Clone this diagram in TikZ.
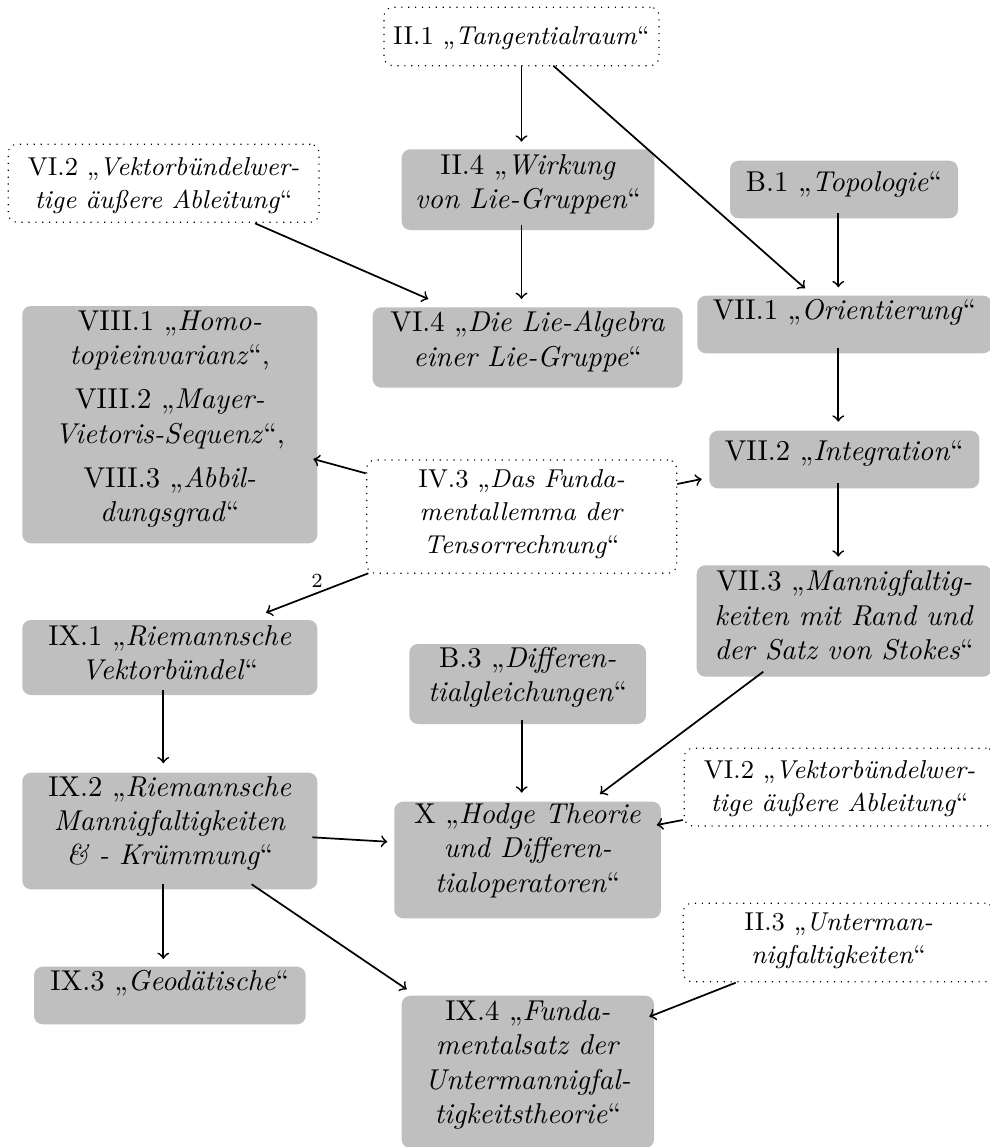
\documentclass[tikz,border=0pt]{standalone}
\usetikzlibrary{calc}
\def\pxu{0.34843pt}
\begin{document}
\begin{tikzpicture}[x=0.34843pt,y=-0.34843pt,
  every node/.style={inner sep=0pt, outer sep=0pt, align=flush center},
  gbox/.style={fill=gray!50, rounded corners=3pt, font=\normalsize},
  dbox/.style={draw=black, dotted, rounded corners=3pt, font=\fontsize{9}{11.5}\selectfont},
  sz/.style n args={3}{minimum width=#1*\pxu, text width=#1*\pxu, text height=#2*\pxu, text depth=#3*\pxu},
  arr/.style={->, line width=0.6pt},
  lbl/.style={font=\scriptsize, inner sep=2pt}
]
\useasboundingbox (0,0) rectangle (990,1147);

\node[dbox, sz={275}{37}{21.4}] (t21) at (521.5,36.5) {II.1 „\textit{Tangentialraum}“};
\node[dbox, sz={310.7}{31.4}{46.6}] (v62a) at (163.65,183.3) {VI.2 „\textit{Vektorbündelwer-}\\\textit{tige äußere Ableitung}“};
\node[gbox, sz={252.6}{25}{55.7}] (t24) at (528,189.65) {II.4 „\textit{Wirkung}\\\textit{von Lie-Gruppen}“};
\node[gbox, sz={228}{30.6}{27}] (b1) at (844,189.5) {B.1 „\textit{Topologie}“};
\node[gbox, sz={310}{24.4}{56}] (v64) at (527.7,347.5) {VI.4 „\textit{Die Lie-Algebra}\\\textit{einer Lie-Gruppe}“};
\node[gbox, sz={294.5}{23.3}{34.3}] (v71) at (844.5,324.5) {VII.1 „\textit{Orientierung}“};
\node[gbox, sz={295}{24}{213.3}] (v8) at (169.8,424.65) {VIII.1 „\textit{Homo-}\\\textit{topieinvarianz}“,\\[3.4pt]VIII.2 „\textit{Mayer-}\\\textit{Vietoris-Sequenz}“,\\[3.4pt]VIII.3 „\textit{Abbil-}\\\textit{dungsgrad}“};
\node[dbox, sz={310}{27.5}{85.8}] (v43) at (521.7,516.65) {IV.3 „\textit{Das Funda-}\\\textit{mentallemma der}\\\textit{Tensorrechnung}“};
\node[gbox, sz={270}{29.3}{28.3}] (v72) at (844.3,459.5) {VII.2 „\textit{Integration}“};
\node[gbox, sz={295}{25.4}{86}] (v73) at (844.2,621) {VII.3 „\textit{Mannigfaltig-}\\\textit{keiten mit Rand und}\\\textit{der Satz von Stokes}“};
\node[gbox, sz={295}{25}{50}] (v91) at (169.8,657.5) {IX.1 „\textit{Riemannsche}\\\textit{Vektorbündel}“};
\node[gbox, sz={236.7}{23.3}{56.7}] (b3) at (527.65,684) {B.3 „\textit{Differen-}\\\textit{tialgleichungen}“};
\node[gbox, sz={295}{23.3}{93.3}] (v92) at (169.8,831) {IX.2 „\textit{Riemannsche}\\\textit{Mannigfaltigkeiten}\\\textit{\& - Krümmung}“};
\node[gbox, sz={266.7}{21.6}{95}] (x) at (527.65,860) {X „\textit{Hodge Theorie}\\\textit{und Differen-}\\\textit{tialoperatoren}“};
\node[dbox, sz={310.7}{29.7}{48}] (v62b) at (839.65,787.15) {VI.2 „\textit{Vektorbündelwer-}\\\textit{tige äußere Ableitung}“};
\node[gbox, sz={271.7}{23.3}{34.3}] (v93) at (169.85,995.5) {IX.3 „\textit{Geodätische}“};
\node[dbox, sz={310.7}{27.4}{51}] (t23) at (838.65,942.5) {II.3 „\textit{Unterman-}\\\textit{nigfaltigkeiten}“};
\node[gbox, sz={252.3}{24.8}{127.5}] (v94) at (527.85,1071.85) {IX.4 „\textit{Funda-}\\\textit{mentalsatz der}\\\textit{Untermannigfal-}\\\textit{tigkeitstheorie}“};

\draw[arr] (t21.south) -- ($(t21.south |- t24.north)+(0,-7.6)$);
\draw[arr] ($(t21.south |- t24.south)+(0,-5)$) -- ($(t21.south |- v64.north)+(0,-8.3)$);
\draw[arr] ($(t21.south)+(31.8,0)$) -- ($(v71.north)+(-39.5,-7.4)$);
\draw[arr] ($(b1.south)+(-5.7,-5)$) -- ($(b1.south |- v71.north)+(-5.7,-8.4)$);
\draw[arr] ($(v62a.south)+(91.35,1)$) -- ($(v64.north)+(-99.4,-8.3)$);
\draw[arr] ($(v71.south)+(-6.2,-5)$) -- ($(v71.south |- v72.north)+(-6.2,-9)$);
\draw[arr] ($(v43.west)+(-1,-43.35)$) -- ($(v8.east)+(-4,34.35)$);
\draw[arr] ($(v43.east)+(0.6,-32.65)$) -- ($(v72.west)+(-7.6,19.5)$);
\draw[arr] ($(v72.south)+(-6,-5)$) -- ($(v72.south |- v73.north)+(-6,-8.6)$);
\draw[arr] ($(v43.south west)+(1.6,0)$) -- node[lbl, midway, above] (l2) {2} ($(v91.north)+(96.2,-7.3)$);
\draw[arr] ($(v91.south)+(-6.5,-5)$) -- ($(v91.south |- v92.north)+(-6.5,-9.4)$);
\draw[arr] ($(b3.south)+(-6,-4)$) -- ($(b3.south |- x.north)+(-6,-9)$);
\draw[arr] ($(v73.south)+(-80.9,-5)$) -- ($(x.north)+(72.35,-7.7)$);
\draw[arr] ($(v62b.west)+(-1.6,32.85)$) -- ($(x.east)+(-4.3,-35)$);
\draw[arr] ($(v92.east)+(-5,6.3)$) -- ($(x.west)+(-7,-18.3)$);
\draw[arr] ($(v92.south)+(-6.5,-5.3)$) -- ($(v92.south |- v93.north)+(-6.5,-7.7)$);
\draw[arr] ($(v92.south)+(81.9,-5)$) -- ($(v94.north)+(-121.15,-6.4)$);
\draw[arr] ($(t23.south)+(-102.95,1)$) -- ($(v94.east)+(-4.7,-55.15)$);
\end{tikzpicture}
\end{document}
